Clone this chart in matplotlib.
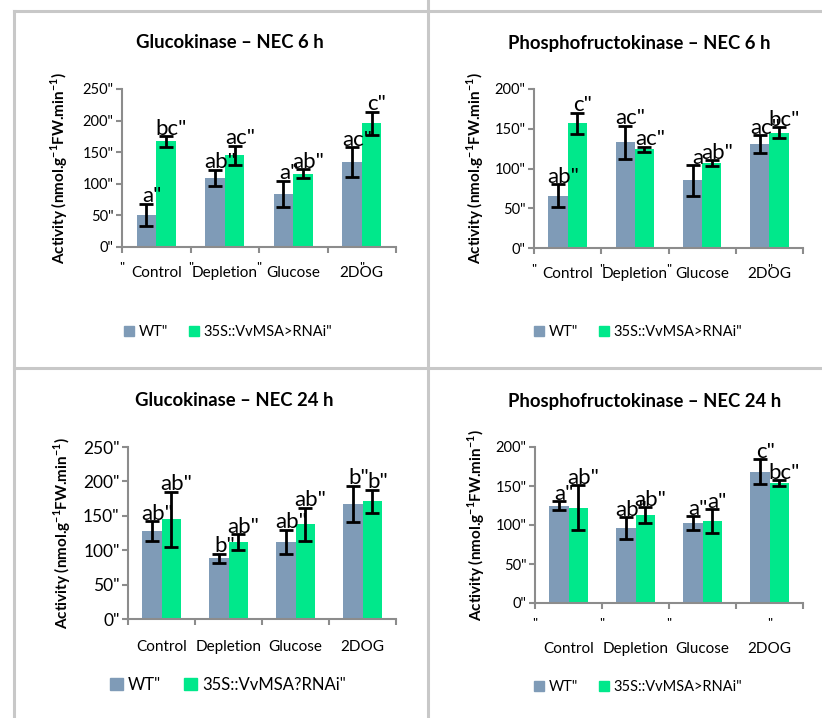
import matplotlib
matplotlib.use("Agg")
import matplotlib.pyplot as plt
import matplotlib.transforms as mtransforms
from matplotlib.patches import Patch
import numpy as np

plt.rcParams['font.family'] = ['Lato', 'DejaVu Sans']
plt.rcParams['mathtext.fontset'] = 'custom'
plt.rcParams['mathtext.bf'] = 'Lato:bold'
plt.rcParams['mathtext.rm'] = 'Lato'

categories = ["Control", "Depletion", "Glucose", "2DOG"]
series_names = ['WT"', '35S::VvMSA>RNAi"']
series_names_p3 = ['WT"', '35S::VvMSA?RNAi"']

# Glucokinase NEC 6 h
gk6_wt = [51, 109, 84, 134]
gk6_wt_err = [17, 13, 21, 24]
gk6_tg = [167, 145, 116, 196]
gk6_tg_err = [8, 15, 7, 18]
gk6_wt_lab = ['a"', 'ab"', 'a"', 'ac"']
gk6_tg_lab = ['bc"', 'ac"', 'ab"', 'c"']

# Phosphofructokinase NEC 6 h
pfk6_wt = [66, 133, 85, 131]
pfk6_wt_err = [14, 21, 19, 11]
pfk6_tg = [157, 124, 107, 145]
pfk6_tg_err = [13, 3.5, 3.5, 7]
pfk6_wt_lab = ['ab"', 'ac"', 'a', 'ac"']
pfk6_tg_lab = ['c"', 'ac"', 'ab"', 'bc"']

# Glucokinase NEC 24 h
gk24_wt = [128, 88, 112, 167]
gk24_wt_err = [14, 7, 18, 26]
gk24_tg = [145, 112, 138, 171]
gk24_tg_err = [40, 11, 24, 17]
gk24_wt_lab = ['ab"', 'b"', 'ab"', 'b"']
gk24_tg_lab = ['ab"', 'ab"', 'ab"', 'b"']

# Phosphofructokinase NEC 24 h
pfk24_wt = [125, 96, 102, 168]
pfk24_wt_err = [5.5, 14, 9, 16]
pfk24_tg = [122, 113, 105, 154]
pfk24_tg_err = [29, 10, 15, 3.5]
pfk24_wt_lab = ['a"', 'ab"', 'a"', 'c"']
pfk24_tg_lab = ['ab"', 'ab"', 'a"', 'bc"']

C_WT = '#7f9bb7'
C_TG = '#00e88b'
AXC = '#8c8c8c'
W, H = 822, 718

fig = plt.figure(figsize=(W / 100, H / 100), dpi=100)

# table grid lines
grid_kw = dict(color='#c8c8c8', lw=2.2, transform=fig.transFigure)
fig.add_artist(plt.Line2D([14 / W, 1], [1 - 11 / H, 1 - 11 / H], **grid_kw))
fig.add_artist(plt.Line2D([14 / W, 1], [1 - 368 / H, 1 - 368 / H], **grid_kw))
fig.add_artist(plt.Line2D([14 / W, 14 / W], [0, 1 - 11 / H], **grid_kw))
fig.add_artist(plt.Line2D([428 / W, 428 / W], [0, 1], **grid_kw))


def panel(rect_px, title, title_xy, ymax, wt, wte, tg, tge, wl, tl, names,
          leg_xy, ylab_x, tick_fs=10.5, leg_fs=10.5, xlab_pad=8, quotes=None,
          quote_y=None):
    l, t, r, b = rect_px
    ax = fig.add_axes([l / W, 1 - b / H, (r - l) / W, (b - t) / H])
    x = np.arange(len(categories))
    w = 0.285
    ax.bar(x - w / 2, wt, w, color=C_WT, zorder=2)
    ax.bar(x + w / 2, tg, w, color=C_TG, zorder=2)
    ek = dict(fmt='none', ecolor='black', elinewidth=2, capsize=4.8, capthick=2, zorder=3)
    ax.errorbar(x - w / 2, wt, yerr=wte, **ek)
    ax.errorbar(x + w / 2, tg, yerr=tge, **ek)
    for xi, v, e, s in zip(x - w / 2, wt, wte, wl):
        ax.text(xi + 0.08, v + e + ymax * 0.01, s, ha='center', va='baseline', fontsize=16, zorder=4)
    for xi, v, e, s in zip(x + w / 2, tg, tge, tl):
        ax.text(xi + 0.08, v + e + ymax * 0.01, s, ha='center', va='baseline', fontsize=16, zorder=4)
    ax.set_xlim(-0.5, 3.5)
    ax.set_ylim(0, ymax)
    ax.set_yticks(np.arange(0, ymax + 1, 50))
    ax.set_yticklabels([f'{v}"' for v in range(0, ymax + 1, 50)], fontsize=tick_fs)
    ax.set_xticks(np.arange(-0.5, 3.6, 1.0))
    ax.set_xticklabels([])
    ax.set_xticks(x, minor=True)
    ax.set_xticklabels(categories, minor=True, fontsize=11)
    ax.tick_params(axis='x', which='minor', length=0, pad=xlab_pad)
    ax.tick_params(axis='x', which='major', length=4, color=AXC, width=1.5)
    ax.tick_params(axis='y', length=4, color=AXC, width=1.5, pad=2)
    for sp in ['top', 'right']:
        ax.spines[sp].set_visible(False)
    for sp in ['left', 'bottom']:
        ax.spines[sp].set_color(AXC)
        ax.spines[sp].set_linewidth(1.5)
    ax.set_ylabel(r'Activity (nmol.g$^{\mathbf{-1}}$FW.min$^{\mathbf{-1}}$)',
                  fontweight='bold', fontsize=11)
    ax.yaxis.set_label_coords(ylab_x, 0.5)
    fig.text(title_xy[0] / W, 1 - title_xy[1] / H, title, ha='center', va='center',
             fontweight='bold', fontsize=13.3)
    if quotes is not None:
        tr = mtransforms.blended_transform_factory(ax.transData, ax.transAxes)
        for q in quotes:
            ax.text(q, quote_y, '"', transform=tr, ha='center', va='top', fontsize=10)
    handles = [Patch(color=C_WT), Patch(color=C_TG)]
    fig.legend(handles, names, loc='center', ncol=2, frameon=False,
               bbox_to_anchor=(leg_xy[0] / W, 1 - leg_xy[1] / H),
               bbox_transform=fig.transFigure, fontsize=leg_fs,
               handlelength=0.75, handleheight=0.75, handletextpad=0.3,
               columnspacing=1.4)
    return ax


quote_x = [-0.5, 0.5, 1.5, 3.0]

panel((122, 89, 396, 247), 'Glucokinase – NEC 6 h', (230, 43), 250,
      gk6_wt, gk6_wt_err, gk6_tg, gk6_tg_err, gk6_wt_lab, gk6_tg_lab, series_names,
      (228, 332), -0.19, xlab_pad=14, quotes=quote_x, quote_y=-0.095)
panel((534, 89, 803, 248), 'Phosphofructokinase – NEC 6 h', (639, 43), 200,
      pfk6_wt, pfk6_wt_err, pfk6_tg, pfk6_tg_err, pfk6_wt_lab, pfk6_tg_lab, series_names,
      (638, 332), -0.177, xlab_pad=14, quotes=quote_x, quote_y=-0.103)
panel((128, 447, 396, 619), 'Glucokinase – NEC 24 h', (234, 401), 250,
      gk24_wt, gk24_wt_err, gk24_tg, gk24_tg_err, gk24_wt_lab, gk24_tg_lab, series_names_p3,
      (228, 685), -0.205, tick_fs=12.5, leg_fs=12, xlab_pad=15)
panel((535, 447, 803, 603), 'Phosphofructokinase – NEC 24 h', (645, 401), 200,
      pfk24_wt, pfk24_wt_err, pfk24_tg, pfk24_tg_err, pfk24_wt_lab, pfk24_tg_lab, series_names,
      (638, 687), -0.179, xlab_pad=28, quotes=quote_x, quote_y=-0.094)

fig.savefig('out.png', dpi=100, facecolor='white')
